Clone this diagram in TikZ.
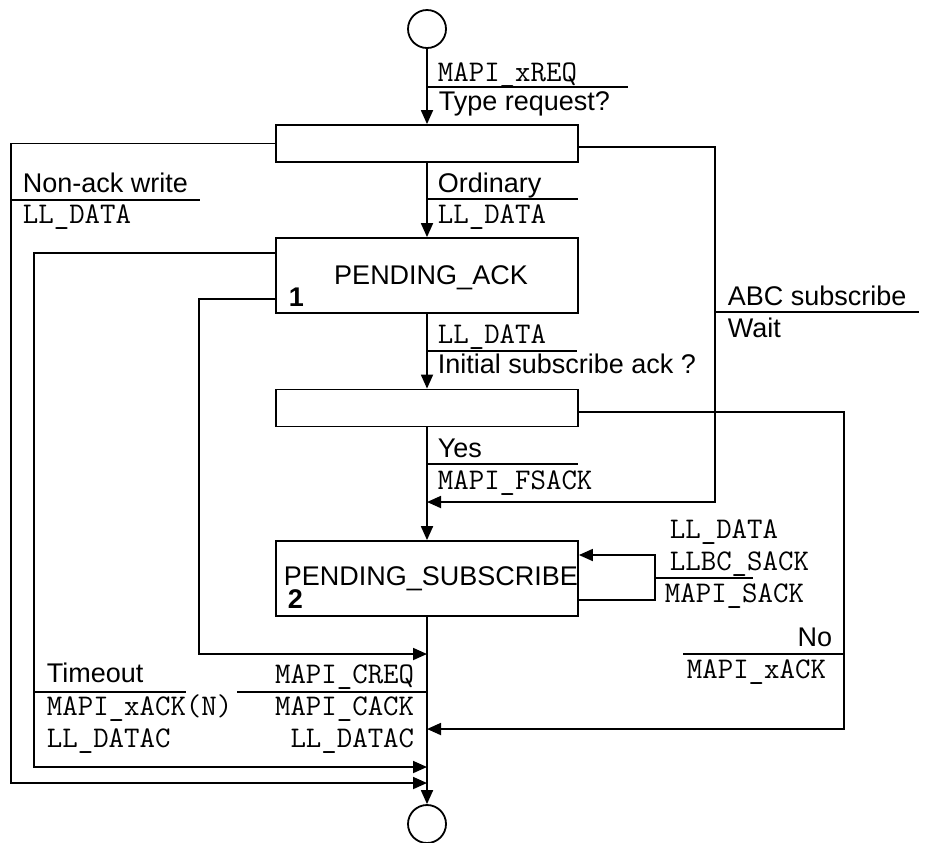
\documentclass[tikz,border=0pt]{standalone}
\usepackage{fontspec}
\setmainfont{Liberation Sans}
\usetikzlibrary{arrows.meta}

\begin{document}
\begin{tikzpicture}[
  x=0.5pt, y=-0.5pt,
  font=\fontsize{13.5}{16}\selectfont,
  line width=0.9pt,
  statebox/.style={draw, minimum width=151pt, minimum height=37.5pt, inner sep=0pt},
  decbox/.style={draw, minimum width=151pt, minimum height=18.5pt, inner sep=0pt},
  term/.style={draw, circle, minimum size=19pt, inner sep=0pt},
  cond/.style={inner sep=0pt, anchor=base west},
  sig/.style={inner sep=0pt, anchor=base west, font=\ttfamily\fontsize{15}{18}\selectfont},
  arr/.style={-{Triangle[length=7pt, width=6pt]}}
]
\useasboundingbox (0,0) rectangle (930,842);

% states and decisions
\node[term] (start) at (427,29) {};
\node[decbox] (dec1) at (427,143.5) {};
\node[statebox] (pack) at (427,275.5) {};
\node[decbox] (dec2) at (427,408) {};
\node[statebox] (psub) at (427,578.5) {};
\node[term] (stop) at (427,824) {};

\node[cond, anchor=base] (packname) at (431,284) {PENDING\_ACK};
\node[cond] (packnum) at (288,306) {\textbf{1}};
\node[cond] (psubname) at (283,585) {PENDING\_SUBSCRIBE};
\node[cond] (psubnum) at (287,608) {\textbf{2}};

% joins on the main line
\coordinate (j1) at (427,502);
\coordinate (j2) at (427,654);
\coordinate (j3) at (427,729);
\coordinate (j4) at (427,767);
\coordinate (j5) at (427,783);

\draw[arr] (start) -- (dec1);
\draw[arr] (dec1) -- (pack);
\draw[arr] (pack) -- (dec2);
\draw[arr] (dec2) -- (psub);
\draw[arr] (psub) -- (stop);

\draw[arr] ([yshift=-1.75pt]dec1.east) -- ++(136,0) |- (j1);
\draw[arr] (dec1.west) -- ++(-264,0) |- (j5);
\draw[arr] ([yshift=11.25pt]pack.west) -- ++(-241,0) |- (j4);
\draw[arr] ([yshift=-11.75pt]pack.west) -- ++(-76,0) |- (j2);
\draw[arr] ([yshift=-2pt]dec2.east) -- ++(265,0) |- (j3);
\draw[arr] ([yshift=-10.75pt]psub.east) -- ++(76,0) |- ([yshift=11.75pt]psub.east);

% transition labels
\node[sig] (t1) at (437,81) {MAPI\_xREQ};
\draw (427,87) -- (628,87);
\node[cond] (q1) at (438,110) {Type request?};

\node[cond] (c1) at (22,192) {Non-ack write};
\draw (12,200) -- (200,200);
\node[sig] (s1) at (22,223) {LL\_DATA};

\node[cond] (c2) at (437,192) {Ordinary};
\draw (427,199) -- (578,199);
\node[sig] (s2) at (437,223) {LL\_DATA};

\node[cond] (c3) at (727,305) {ABC subscribe};
\draw (714,312) -- (919,312);
\node[cond] (s3) at (727,337) {Wait};

\node[sig] (t2) at (437,343) {LL\_DATA};
\draw (427,351) -- (577,351);
\node[cond] (q2) at (437,373) {Initial subscribe ack ?};

\node[cond] (c4) at (437,457) {Yes};
\draw (427,464) -- (578,464);
\node[sig] (s4) at (437,489) {MAPI\_FSACK};

\node[sig] (t5a) at (669,538) {LL\_DATA};
\node[sig] (t5b) at (669,570) {LLBC\_SACK};
\draw (654,578) -- (753,578);
\node[sig] (s5) at (664,602) {MAPI\_SACK};

\node[cond, anchor=base east] (c6) at (833,646) {No};
\draw (683,654) -- (843,654);
\node[sig] (s6) at (686,678) {MAPI\_xACK};

\node[cond] (c7) at (46,682) {Timeout};
\draw (35,692) -- (186,692);
\node[sig] (s7a) at (46,715) {MAPI\_xACK(N)};
\node[sig] (s7b) at (46,747) {LL\_DATAC};

\node[sig, anchor=base east] (t8) at (415,683) {MAPI\_CREQ};
\draw (237,692) -- (427,692);
\node[sig, anchor=base east] (s8a) at (415,715) {MAPI\_CACK};
\node[sig, anchor=base east] (s8b) at (415,747) {LL\_DATAC};

\end{tikzpicture}
\end{document}
